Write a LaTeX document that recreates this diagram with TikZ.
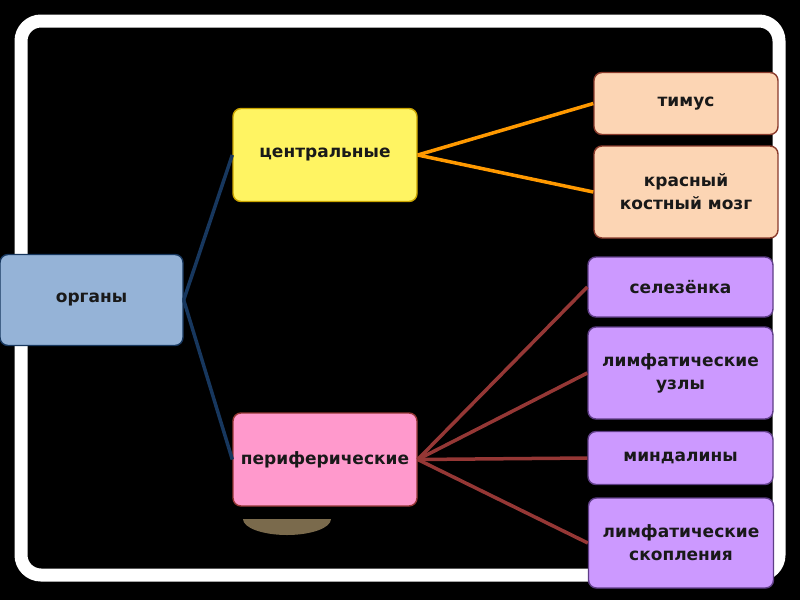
\documentclass[tikz,border=0pt]{standalone}
\usepackage{fontspec}
\setmainfont{DejaVu Sans}
\usetikzlibrary{backgrounds}
\definecolor{OrganBlue}{HTML}{95B3D7}
\definecolor{OrganNavy}{HTML}{17375E}
\definecolor{CentralYellow}{HTML}{FFF462}
\definecolor{CentralGold}{HTML}{C9A400}
\definecolor{CentralOrange}{HTML}{FF9900}
\definecolor{PeriPink}{HTML}{FF99CC}
\definecolor{PeriRed}{HTML}{953735}
\definecolor{ThymusPeach}{HTML}{FCD5B4}
\definecolor{ThymusBrown}{HTML}{8A3B2C}
\definecolor{LymphViolet}{HTML}{CC99FF}
\definecolor{LymphPlum}{HTML}{5F3E87}
\definecolor{StandBrown}{HTML}{7A6A4C}

\begin{document}
\begin{tikzpicture}[
    font=\fontsize{17}{23}\selectfont\bfseries,
    x=1pt,
    y=-1pt,
    box/.style={draw, rounded corners=8pt, line width=1.4pt, align=center, inner sep=0pt, text=black!90},
    organ/.style={box, fill=OrganBlue, draw=OrganNavy, minimum width=183pt},
    kind/.style={box, minimum width=184pt, minimum height=93pt},
    central/.style={kind, fill=CentralYellow, draw=CentralGold},
    peripheral/.style={kind, fill=PeriPink, draw=PeriRed},
    centre/.style={box, fill=ThymusPeach, draw=ThymusBrown, minimum width=184pt},
    lymph/.style={box, fill=LymphViolet, draw=LymphPlum, minimum width=185pt},
    trunk/.style={line width=3.5pt, color=OrganNavy},
    branch/.style={line width=3.5pt, color=CentralOrange},
    twig/.style={line width=3.5pt, color=PeriRed}
  ]
    \useasboundingbox (0,0) rectangle (800,600);
    \fill[black] (0,0) rectangle (800,600);
    \draw[white, line width=13pt, rounded corners=20pt] (21,21) rectangle (779,575);

    % stand under the lower box
    \begin{scope}
      \clip (243,519) rectangle (331,540);
      \fill[StandBrown] (287,519) ellipse [x radius=44pt, y radius=16pt];
    \end{scope}

    \node[organ, minimum height=91pt] (organs) at (91.5,300) {органы};
    \node[central] (central) at (325,155) {центральные};
    \node[peripheral] (peripheral) at (325,459.5) {периферические};

    \node[centre, minimum height=62pt] (thymus) at (686,103.5) {тимус};
    \node[centre, minimum height=92pt] (marrow) at (686,192) {красный\\костный мозг};

    \node[lymph, minimum height=60pt] (spleen) at (680.5,287) {селезёнка};
    \node[lymph, minimum height=92pt] (nodes) at (680.5,373) {лимфатические\\узлы};
    \node[lymph, minimum height=53pt] (tonsils) at (680.5,458) {миндалины};
    \node[lymph, minimum height=90pt] (clusters) at (681,543) {лимфатические\\скопления};

    \draw[trunk] (organs.east) -- (central.west);
    \draw[trunk] (organs.east) -- (peripheral.west);

    \draw[branch] (central.east) -- (thymus.west);
    \draw[branch] (central.east) -- (marrow.west);

    \draw[twig] (peripheral.east) -- (spleen.west);
    \draw[twig] (peripheral.east) -- (nodes.west);
    \draw[twig] (peripheral.east) -- (tonsils.west);
    \draw[twig] (peripheral.east) -- (clusters.west);
  \end{tikzpicture}
\end{document}
